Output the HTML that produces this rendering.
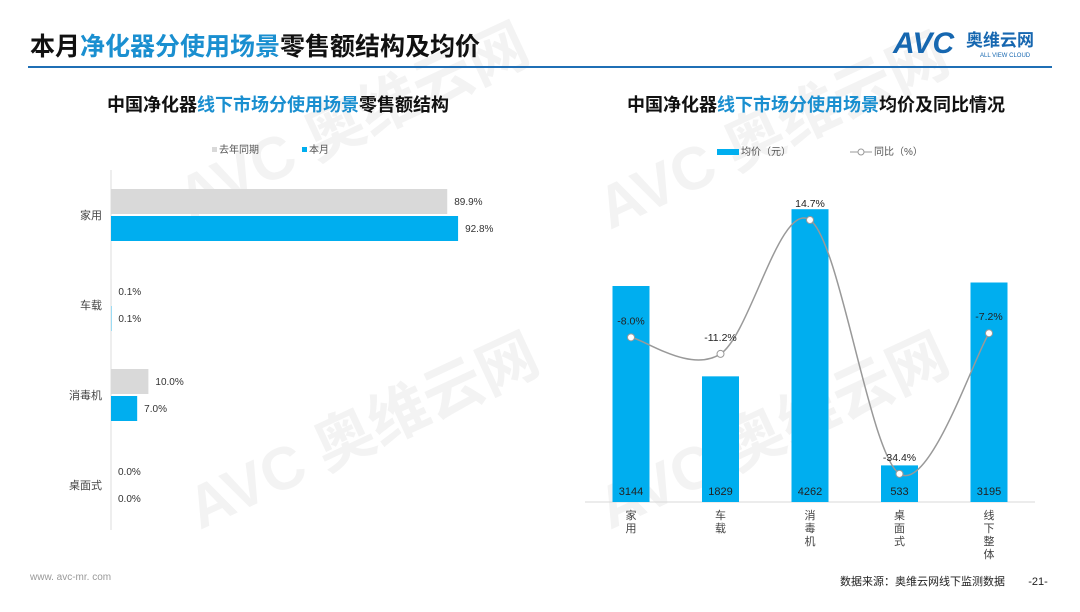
<!DOCTYPE html>
<html><head><meta charset="utf-8"><style>
body{margin:0;width:1080px;height:607px;background:#fff;overflow:hidden;font-family:"Liberation Sans","Noto Sans CJK SC",sans-serif;}
svg text{font-family:"Liberation Sans","Noto Sans CJK SC",sans-serif;}
</style></head><body>
<svg width="1080" height="607" viewBox="0 0 1080 607" xmlns="http://www.w3.org/2000/svg">
<g fill="#f3f3f3" font-weight="bold">
<text x="190" y="220" font-size="60" transform="rotate(-25 190 220)">AVC 奥维云网</text>
<text x="200" y="530" font-size="60" transform="rotate(-25 200 530)">AVC 奥维云网</text>
<text x="610" y="230" font-size="60" transform="rotate(-25 610 230)">AVC 奥维云网</text>
<text x="610" y="530" font-size="60" transform="rotate(-25 610 530)">AVC 奥维云网</text>
</g>
<text x="30" y="55" font-size="25" font-weight="bold" fill="#111">本月<tspan fill="#1a8fd0">净化器分使用场景</tspan>零售额结构及均价</text>
<g>
<text x="893" y="53" font-size="30" font-weight="bold" font-style="italic" fill="#1667b0">AVC</text>
<text x="966" y="46" font-size="17" font-weight="bold" fill="#1667b0">奥维云网</text>
<text x="980" y="57" font-size="6" fill="#1667b0">ALL VIEW CLOUD</text>
</g>
<rect x="28" y="66" width="1024" height="2" fill="#1f6fb5"/>
<text x="278" y="111" font-size="18" font-weight="bold" fill="#111" text-anchor="middle">中国净化器<tspan fill="#1a8fd0">线下市场分使用场景</tspan>零售额结构</text>
<text x="816" y="111" font-size="18" font-weight="bold" fill="#111" text-anchor="middle">中国净化器<tspan fill="#1a8fd0">线下市场分使用场景</tspan>均价及同比情况</text>
<g font-size="10" fill="#555">
<rect x="212" y="147" width="5" height="5" fill="#d9d9d9"/><text x="219" y="153">去年同期</text>
<rect x="302" y="147" width="5" height="5" fill="#00aeef"/><text x="309" y="153">本月</text>
</g>
<g id="left"></g>
<g font-size="10" fill="#555">
<rect x="717" y="149" width="22" height="6" fill="#00aeef"/><text x="741" y="155">均价（元）</text>
<line x1="850" y1="152" x2="872" y2="152" stroke="#999"/><circle cx="861" cy="152" r="3" fill="#fff" stroke="#999"/><text x="874" y="155">同比（%）</text>
</g>
<g id="right"></g>
<text x="30" y="580" font-size="10" fill="#999">www. avc-mr. com</text>
<text x="1005" y="585" font-size="11" fill="#222" text-anchor="end">数据来源：奥维云网线下监测数据</text>
<text x="1038" y="585" font-size="11" fill="#222" text-anchor="middle">-21-</text>
</svg>
<script>
const leftCats=["家用","车载","消毒机","桌面式"];
const lastYear=[89.9,0.1,10.0,0.0];
const thisMonth=[92.8,0.1,7.0,0.0];
const rightCats=[["家","用"],["车","载"],["消","毒","机"],["桌","面","式"],["线","下","整","体"]];
const avgPrice=[3144,1829,4262,533,3195];
const yoy=[-8.0,-11.2,14.7,-34.4,-7.2];
const NS="http://www.w3.org/2000/svg";
function mk(p,t,a,txt){const e=document.createElementNS(NS,t);for(const k in a)e.setAttribute(k,a[k]);if(txt!==undefined)e.textContent=txt;p.appendChild(e);return e;}
const L=document.getElementById('left');
const lx=v=>111+v*3.74, ly=i=>215+i*90;
const ax=mk(L,'line',{x1:111,y1:170,x2:111,y2:530,stroke:'#ddd'});


leftCats.forEach((c,i)=>{
 const t=mk(L,'text',{x:102,y:ly(i)+4,'font-size':11,fill:'#444','text-anchor':'end'},c);
 
 
 const g=mk(L,'rect',{x:111,y:ly(i)-26,width:Math.max(lx(lastYear[i])-111,0),height:25,fill:'#d9d9d9'});
 
 
 const b=mk(L,'rect',{x:111,y:ly(i)+1,width:Math.max(lx(thisMonth[i])-111,0),height:25,fill:'#00aeef'});
 
 
 const t1=mk(L,'text',{x:lx(lastYear[i])+7,y:ly(i)-10,'font-size':10,fill:'#333'},lastYear[i].toFixed(1)+'%');
 
 
 const t2=mk(L,'text',{x:lx(thisMonth[i])+7,y:ly(i)+17,'font-size':10,fill:'#333'},thisMonth[i].toFixed(1)+'%');
 
 
});
const R=document.getElementById('right');
const rx=i=>631+i*89.5, base=502, ry=v=>base-v*0.0687, py=v=>220+(14.7-v)*5.17;
const bl=mk(R,'line',{x1:585,y1:base,x2:1035,y2:base,stroke:'#d9d9d9'});


avgPrice.forEach((v,i)=>{
 const b=mk(R,'rect',{x:rx(i)-18.5,y:ry(v),width:37,height:base-ry(v),fill:'#00aeef'});
 
 
 const t=mk(R,'text',{x:rx(i),y:base-7,'font-size':11,fill:'#222','text-anchor':'middle'},v);
 
 
 rightCats[i].forEach((ch,j)=>{const c=mk(R,'text',{x:rx(i),y:base+17+j*13,'font-size':11,fill:'#444','text-anchor':'middle'},ch);
 
 });
});
const pts=yoy.map((v,i)=>[rx(i),py(v)]);
let d='M'+pts[0][0]+','+pts[0][1];
for(let i=0;i<pts.length-1;i++){const p0=pts[i-1]||pts[i],p1=pts[i],p2=pts[i+1],p3=pts[i+2]||p2;
 const c1=[p1[0]+(p2[0]-p0[0])/6,p1[1]+(p2[1]-p0[1])/6],c2=[p2[0]-(p3[0]-p1[0])/6,p2[1]-(p3[1]-p1[1])/6];
 d+=` C${c1[0]},${c1[1]} ${c2[0]},${c2[1]} ${p2[0]},${p2[1]}`;}
const ln=mk(R,'path',{d:d,fill:'none',stroke:'#999','stroke-width':1.5});


yoy.forEach((v,i)=>{
 const c=mk(R,'circle',{cx:pts[i][0],cy:pts[i][1],r:3.5,fill:'#fff',stroke:'#999'});
 
 
 const t=mk(R,'text',{x:pts[i][0],y:pts[i][1]-13,'font-size':10.5,fill:'#222','text-anchor':'middle'},v.toFixed(1)+'%');
 
 
});
</script>
</body></html>
